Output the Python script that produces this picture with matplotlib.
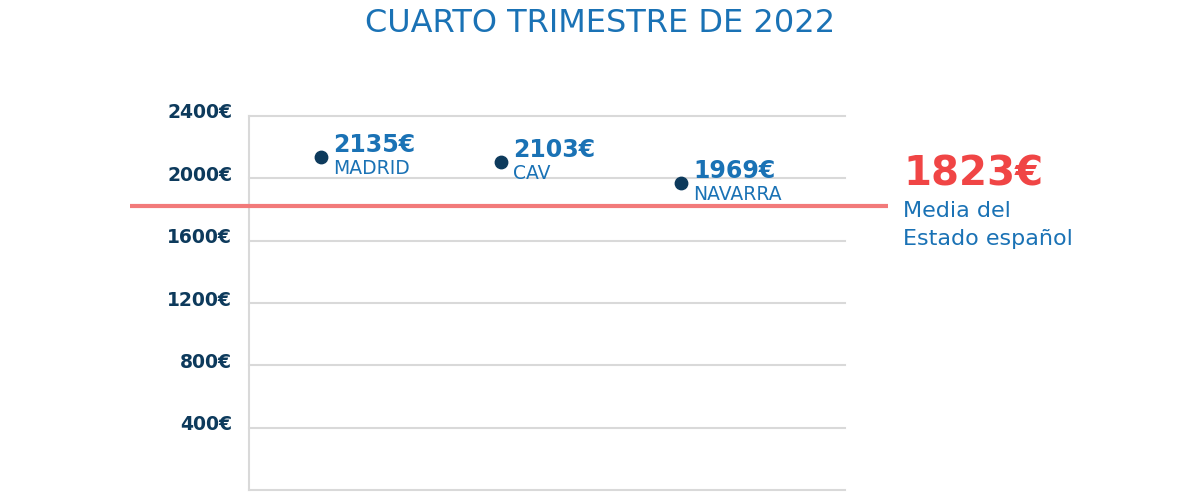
import matplotlib.pyplot as plt
from matplotlib.transforms import ScaledTranslation

# Salario medio por comunidad, cuarto trimestre de 2022
regiones = ['MADRID', 'CAV', 'NAVARRA']
salarios = [2135, 2103, 1969]
media_estado = 1823
yticks = [0, 400, 800, 1200, 1600, 2000, 2400]
ytick_labels = ['', '400€', '800€', '1200€', '1600€', '2000€', '2400€']

navy = '#0d3a5c'
azul = '#1a72b5'
rojo = '#f04545'
rojo_linea = '#f27a7a'
gris = '#d9d9d9'

plt.rcParams['font.family'] = ['DejaVu Sans']

fig = plt.figure(figsize=(12, 5), dpi=100)
ax = fig.add_axes([0.2075, 0.02, 0.4967, 0.748])

x = list(range(len(regiones)))
ax.scatter(x, salarios, s=80, color=navy, zorder=4)

for xi, val, nombre in zip(x, salarios, regiones):
    ax.annotate(f'{val}€', (xi, val), xytext=(12, 5), textcoords='offset pixels',
                fontsize=17, fontweight='bold', color=azul, va='baseline', ha='left')
    ax.annotate(nombre, (xi, val), xytext=(12, -17), textcoords='offset pixels',
                fontsize=13.5, color=azul, va='baseline', ha='left')

# linea de la media estatal, sale fuera del area del grafico
ax.plot([-0.2, 1.072], [media_estado, media_estado], transform=ax.get_yaxis_transform(),
        color=rojo_linea, lw=3, clip_on=False, zorder=3, solid_capstyle='butt')

ax.text(1.098, media_estado + 130, f'{media_estado}€', transform=ax.get_yaxis_transform(),
        fontsize=29, fontweight='bold', color=rojo, va='baseline', ha='left')
ax.text(1.098, media_estado - 73, 'Media del', transform=ax.get_yaxis_transform(),
        fontsize=16, color=azul, va='baseline', ha='left')
ax.text(1.098, media_estado - 252, 'Estado español', transform=ax.get_yaxis_transform(),
        fontsize=16, color=azul, va='baseline', ha='left')

ax.set_xlim(-0.4, 2.91)
ax.set_ylim(0, 2400)
ax.set_xticks([])
ax.set_yticks(yticks)
ax.set_yticklabels(ytick_labels, fontsize=13.5, fontweight='bold', color=navy)
ax.tick_params(axis='y', length=0, pad=12)
for lbl in ax.get_yticklabels():
    lbl.set_transform(lbl.get_transform() + ScaledTranslation(0, 5 / 100, fig.dpi_scale_trans))

ax.grid(axis='y', color=gris, lw=1.5)
for gl in ax.get_ygridlines():
    gl.set_clip_on(False)
ax.set_axisbelow(True)
for side in ['top', 'right', 'bottom']:
    ax.spines[side].set_visible(False)
ax.spines['left'].set_color(gris)
ax.spines['left'].set_linewidth(1.5)

fig.text(0.5, 0.953, 'CUARTO TRIMESTRE DE 2022', ha='center', va='center',
         fontsize=23, color=azul)

fig.savefig('out.png', dpi=100)
